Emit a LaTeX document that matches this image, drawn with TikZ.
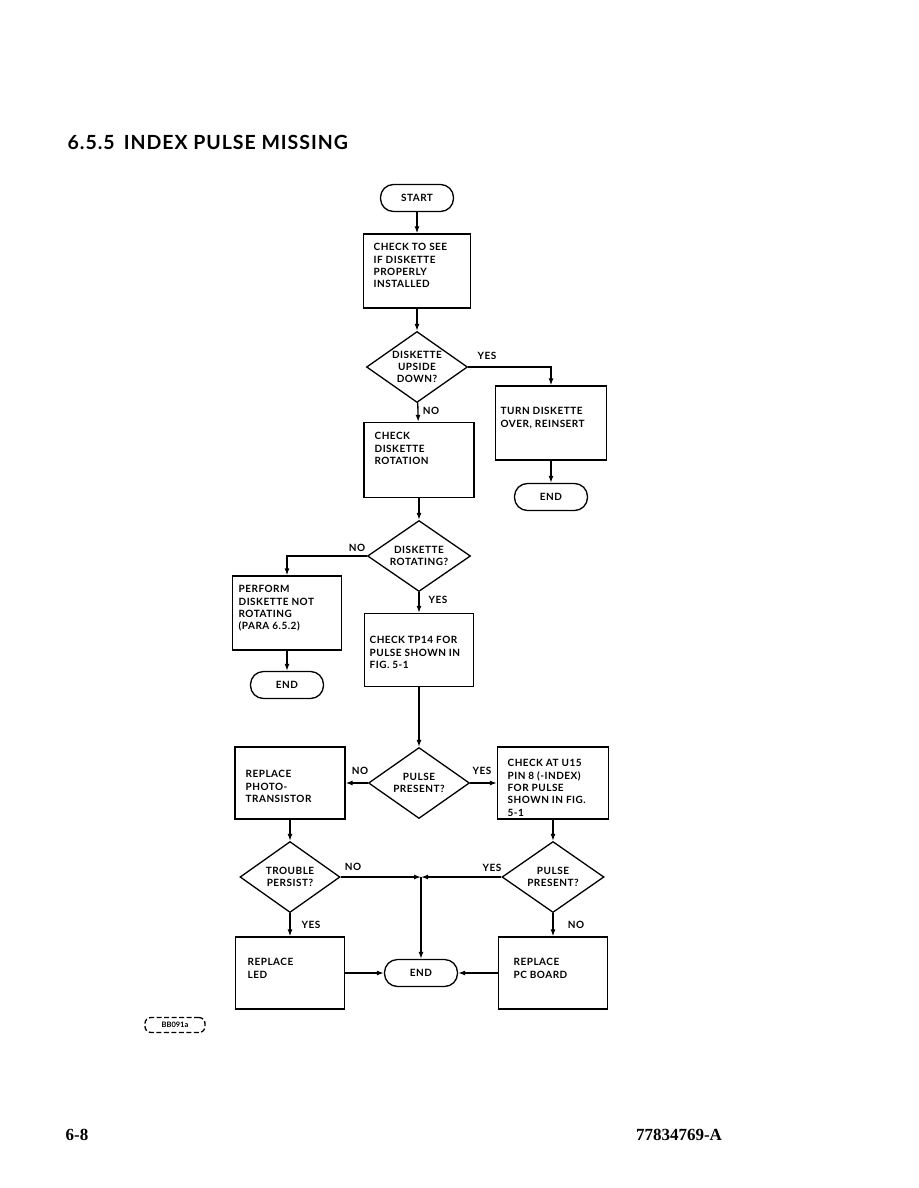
\documentclass[tikz,border=0pt]{standalone}
\usepackage{fontspec}
\setmainfont{Lato}
\newfontfamily\chartfamily[LetterSpace=5]{Lato}
\newfontfamily\titlefamily[LetterSpace=5]{Lato}
\newfontfamily\footfont{Liberation Serif}
\usepackage{tikz}
\usetikzlibrary{shapes,arrows.meta,positioning,calc}

\newcommand{\chartfont}{\chartfamily\bfseries\fontsize{10}{12.3}\selectfont}

\begin{document}
\begin{tikzpicture}[x=1pt, y=-1pt, line width=1.3pt,
    >={Latex[length=7pt,width=5pt]},
    procbox/.style={draw, rectangle, inner sep=0pt, minimum width=110, minimum height=73},
    boxtext/.style={anchor=north west, align=left, inner sep=0pt, font=\chartfont},
    decision/.style={draw, diamond, aspect=1.44, inner sep=-2pt, minimum width=101,
        minimum height=71, align=center, font=\chartfont},
    term/.style={draw, rectangle, rounded corners=13pt, minimum width=73,
        minimum height=27, font=\chartfont},
    lbl/.style={inner sep=0pt, font=\chartfont}]
    \useasboundingbox (0,0) rectangle (918,1188);

    % heading and page footer
    \node[anchor=west, inner sep=0pt, font=\titlefamily\bfseries\fontsize{19.5}{22}\selectfont] (title) at (67,142)
        {6.5.5\hspace{9pt}INDEX PULSE MISSING};
    \node[inner sep=0pt, font=\footfont\bfseries\fontsize{17}{20}\selectfont] (pagenum) at (77,1135) {6-8};
    \node[inner sep=0pt, font=\footfont\bfseries\fontsize{17}{20}\selectfont] (docnum) at (679,1135) {77834769-A};

    % top column
    \node[term] (start) at (417,198) {START};
    \node[procbox, minimum width=107, minimum height=74] (check1) at (417,271) {};
    \node[boxtext] (check1t) at (373,243) {CHECK TO SEE\\IF DISKETTE\\PROPERLY\\INSTALLED};
    \node[decision] (upside) at (417,367) {DISKETTE\\UPSIDE\\DOWN?};
    \node[procbox, minimum width=111, minimum height=74] (turn) at (551,423) {};
    \node[boxtext] (turnt) at (500,407) {TURN DISKETTE\\OVER, REINSERT};
    \node[term] (end1) at (551,497) {END};
    \node[procbox, minimum height=75] (rotate) at (419,460) {};
    \node[boxtext] (rotatet) at (374,432) {CHECK\\DISKETTE\\ROTATION};
    \node[decision, minimum width=103] (rotating) at (419,556) {DISKETTE\\ROTATING?};
    \node[procbox, minimum width=109, minimum height=74] (perform) at (287,613) {};
    \node[boxtext] (performt) at (238,585) {PERFORM\\DISKETTE NOT\\ROTATING\\(PARA 6.5.2)};
    \node[term] (end2) at (287,685) {END};
    \node[procbox, minimum width=109] (tp) at (419,650) {};
    \node[boxtext] (tpt) at (369,636) {CHECK TP14 FOR\\PULSE SHOWN IN\\FIG. 5-1};

    % pulse checks
    \node[decision] (pulse1) at (419,783) {PULSE\\PRESENT?};
    \node[procbox, minimum height=72] (photo) at (290,783) {};
    \node[boxtext] (photot) at (245,770) {REPLACE\\PHOTO-\\TRANSISTOR};
    \node[procbox, minimum width=111, minimum height=72] (index) at (553,783) {};
    \node[boxtext] (indext) at (507,759) {CHECK AT U15\\PIN 8 (-INDEX)\\FOR PULSE\\SHOWN IN FIG.\\5-1};
    \node[decision, minimum width=100] (trouble) at (290,877) {TROUBLE\\PERSIST?};
    \node[decision, minimum width=102] (pulse2) at (553,877) {PULSE\\PRESENT?};
    \node[procbox, minimum width=109, minimum height=72] (led) at (290,973) {};
    \node[boxtext] (ledt) at (247,958) {REPLACE\\LED};
    \node[procbox, minimum width=109, minimum height=72] (board) at (553,973) {};
    \node[boxtext] (boardt) at (513,958) {REPLACE\\PC BOARD};
    \node[term] (end3) at (421,973) {END};
    \coordinate (join) at (421,877);

    \node[draw, dashed, dash pattern=on 5pt off 2.5pt, line width=1.3pt, rounded corners=6pt,
        minimum width=60, minimum height=15, inner sep=0pt,
        font=\bfseries\fontsize{7.5}{8}\selectfont] (figno) at (175,1025) {BB091a};

    % branch labels
    \node[lbl] (yes1) at (487,356) {YES};
    \node[lbl] (no1) at (431,411) {NO};
    \node[lbl] (no2) at (357,548) {NO};
    \node[lbl] (yes2) at (438,600) {YES};
    \node[lbl] (no3) at (360,771) {NO};
    \node[lbl] (yes3) at (482,771) {YES};
    \node[lbl] (no4) at (353,867) {NO};
    \node[lbl] (yes4) at (492,868) {YES};
    \node[lbl] (yes5) at (311,925) {YES};
    \node[lbl] (no5) at (576,925) {NO};

    % connectors
    \draw[->] (start) -- (check1);
    \draw[->] (check1) -- (upside);
    \draw[->] (upside.east) -| (turn.north);
    \draw[->] (turn) -- (end1);
    \draw[->] (upside) -- (rotate);
    \draw[->] (rotate) -- (rotating);
    \draw[->] (rotating.west) -| (perform.north);
    \draw[->] (perform) -- (end2);
    \draw[->] (rotating) -- (tp);
    \draw[->] (tp) -- (pulse1);
    \draw[->] (pulse1.west) -- (photo.east);
    \draw[->] (pulse1.east) -- (index.west);
    \draw[->] (photo) -- (trouble);
    \draw[->] (index) -- (pulse2);
    \draw[->] (trouble.east) -- (join);
    \draw[->] (pulse2.west) -- (join);
    \draw[->] (join) -- (end3.north);
    \draw[->] (trouble) -- (led);
    \draw[->] (pulse2) -- (board);
    \draw[->] (led.east) -- (end3.west);
    \draw[->] (board.west) -- (end3.east);
\end{tikzpicture}
\end{document}
